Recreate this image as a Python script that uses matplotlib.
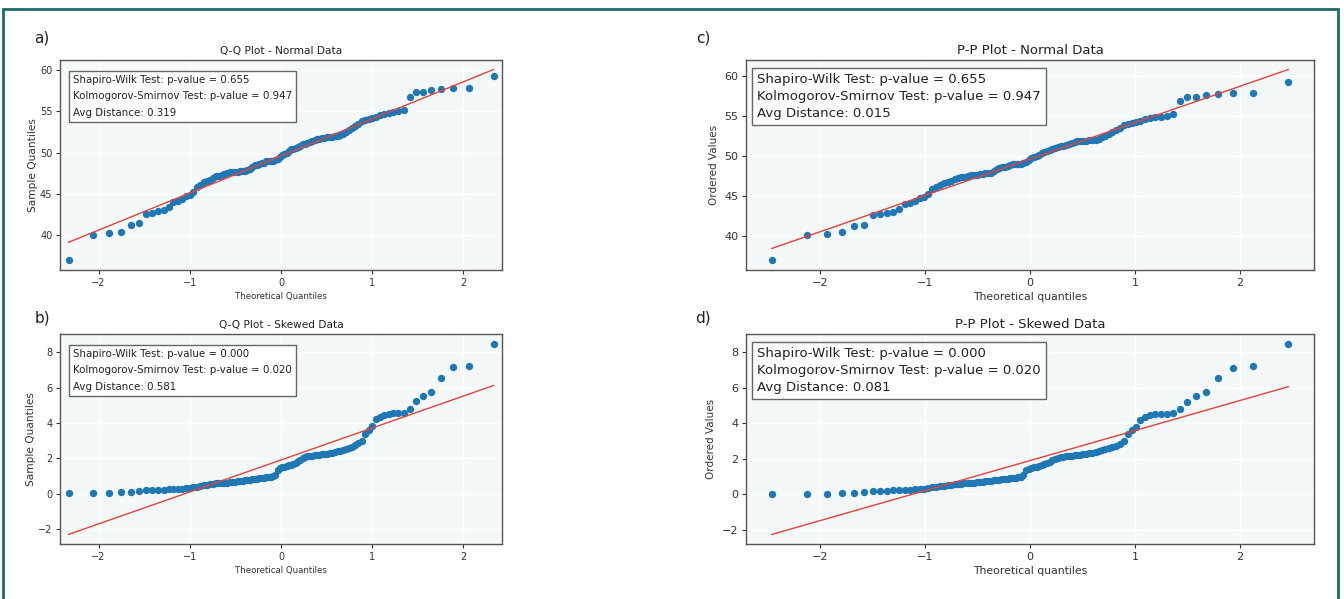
import numpy as np
import matplotlib
matplotlib.use("Agg")
import matplotlib.pyplot as plt
from matplotlib.patches import Rectangle
from statistics import NormalDist

# ---------------- data (sorted sample values) ----------------
normal_data = [
    36.9, 40.05, 40.2, 40.4, 41.2, 41.4, 42.6, 42.7, 42.9, 43.0,
    43.4, 44.0, 44.15, 44.35, 44.7, 44.9, 45.2, 45.8, 46.1, 46.4,
    46.6, 46.7, 46.9, 47.1, 47.2, 47.3, 47.4, 47.5, 47.6, 47.6,
    47.65, 47.7, 47.75, 47.8, 47.8, 47.9, 48.05, 48.3, 48.5, 48.55,
    48.6, 48.7, 48.8, 48.95, 49.0, 49.0, 49.0, 49.05, 49.2, 49.5,
    49.7, 49.85, 50.0, 50.15, 50.4, 50.5, 50.55, 50.7, 50.85, 51.0,
    51.05, 51.2, 51.25, 51.4, 51.5, 51.6, 51.7, 51.8, 51.8, 51.85,
    51.9, 51.95, 52.0, 52.0, 52.15, 52.3, 52.5, 52.7, 53.0, 53.2,
    53.5, 53.8, 54.0, 54.1, 54.2, 54.35, 54.6, 54.75, 54.85, 54.9,
    55.0, 55.2, 56.8, 57.4, 57.4, 57.6, 57.7, 57.8, 57.9, 59.3,
]
skewed_data = [
    0.02, 0.02, 0.04, 0.08, 0.10, 0.13, 0.19, 0.21, 0.21, 0.23,
    0.25, 0.26, 0.27, 0.29, 0.31, 0.33, 0.36, 0.40, 0.44, 0.47,
    0.50, 0.54, 0.56, 0.58, 0.60, 0.60, 0.62, 0.62, 0.64, 0.66,
    0.68, 0.70, 0.72, 0.73, 0.75, 0.77, 0.79, 0.81, 0.83, 0.85,
    0.87, 0.89, 0.90, 0.92, 0.94, 0.96, 1.00, 1.07, 1.36, 1.45,
    1.49, 1.53, 1.56, 1.60, 1.64, 1.69, 1.75, 1.83, 1.92, 2.00,
    2.07, 2.11, 2.13, 2.15, 2.17, 2.18, 2.20, 2.22, 2.24, 2.26,
    2.28, 2.32, 2.35, 2.39, 2.43, 2.49, 2.54, 2.60, 2.66, 2.75,
    2.85, 3.00, 3.40, 3.60, 3.80, 4.20, 4.35, 4.45, 4.50, 4.55,
    4.55, 4.58, 4.78, 5.22, 5.52, 5.74, 6.55, 7.14, 7.21, 8.49,
]
panel_letters = ["a)", "b)", "c)", "d)"]
titles = ["Q-Q Plot - Normal Data", "Q-Q Plot - Skewed Data",
          "P-P Plot - Normal Data", "P-P Plot - Skewed Data"]
stats_normal = ["Shapiro-Wilk Test: p-value = 0.655",
                "Kolmogorov-Smirnov Test: p-value = 0.947"]
stats_skewed = ["Shapiro-Wilk Test: p-value = 0.000",
                "Kolmogorov-Smirnov Test: p-value = 0.020"]
avg_dist = ["Avg Distance: 0.319", "Avg Distance: 0.581",
            "Avg Distance: 0.015", "Avg Distance: 0.081"]
normal_yticks = [40, 45, 50, 55, 60]
skewed_yticks = [-2, 0, 2, 4, 6, 8]
xticks = [-2, -1, 0, 1, 2]

plt.rcParams["font.family"] = ["DejaVu Sans"]

nd = NormalDist()


def sm_positions(n):
    # statsmodels ProbPlot default plotting positions i/(n+1)
    return np.array([nd.inv_cdf(i / (n + 1)) for i in range(1, n + 1)])


def scipy_positions(n):
    # scipy.stats.probplot (Filliben) order statistic medians
    m = np.empty(n)
    m[-1] = 0.5 ** (1.0 / n)
    m[0] = 1 - m[-1]
    i = np.arange(2, n)
    m[1:-1] = (i - 0.3175) / (n + 0.365)
    return np.array([nd.inv_cdf(p) for p in m])


fig = plt.figure(figsize=(13.44, 5.99), dpi=100)
W, H = 1344, 599


def add_ax(l, r, t, b):
    return fig.add_axes([l / W, 1 - b / H, (r - l) / W, (b - t) / H])


axes = [
    add_ax(60, 502, 60, 270),
    add_ax(60, 502, 334, 544),
    add_ax(746, 1314, 60, 270),
    add_ax(746, 1314, 334, 544),
]

BG = "#f4f8f8"
DOT = "#1f77b4"
LINE = "#e8413a"
TXT = "#222222"

# left half of the reference is horizontally compressed -> smaller fonts there
style_left = dict(tick=7.0, xlab=6.2, ylab=7.6, ylabpad=1.5, title=7.6, box=7.35,
                  ls=1.8, off=(13, -14.7))
style_right = dict(tick=8.0, xlab=7.8, ylab=7.5, ylabpad=4.0, title=9.5, box=9.5,
                   ls=1.37, off=(11, -13.3))

for k, ax in enumerate(axes):
    st = style_left if k < 2 else style_right
    data = np.array(normal_data if k % 2 == 0 else skewed_data)
    n = len(data)
    if k < 2:
        x = sm_positions(n)
        slope, inter = data.std(ddof=1), data.mean()
        xlabel, ylabel = "Theoretical Quantiles", "Sample Quantiles"
    else:
        x = scipy_positions(n)
        slope, inter = np.polyfit(x, data, 1)
        xlabel, ylabel = "Theoretical quantiles", "Ordered Values"
    ax.set_facecolor(BG)
    ax.grid(True, color="white", lw=1.0)
    ax.set_axisbelow(True)
    ax.scatter(x, data, s=28, color=DOT, zorder=3, linewidths=0)
    ax.plot(x, inter + slope * x, color=LINE, lw=1.0, zorder=4)
    if k < 2:
        ax.margins(x=0.02, y=0.05)
    ax.set_xticks(xticks)
    ax.set_xticklabels(["\u22122", "\u22121", "0", "1", "2"])
    yt = normal_yticks if k % 2 == 0 else skewed_yticks
    ax.set_yticks(yt)
    ax.set_yticklabels([str(v).replace("-", "\u2212") for v in yt])
    ax.tick_params(labelsize=st["tick"], colors="#333333", length=3, width=0.8, pad=2.5)
    for sp in ax.spines.values():
        sp.set_color("#555555")
        sp.set_linewidth(1.0)
    ax.set_xlabel(xlabel, fontsize=st["xlab"], color="#333333", labelpad=3)
    ax.set_ylabel(ylabel, fontsize=st["ylab"], color="#333333", labelpad=st["ylabpad"])
    ax.set_title(titles[k], fontsize=st["title"], color=TXT, pad=4.5)
    lines = (stats_normal if k % 2 == 0 else stats_skewed) + [avg_dist[k]]
    ax.annotate("\n".join(lines), xy=(0, 1), xycoords="axes fraction",
                xytext=st["off"], textcoords="offset pixels",
                va="top", ha="left", fontsize=st["box"], color=TXT,
                linespacing=st["ls"], zorder=6,
                bbox=dict(boxstyle="square,pad=0.4", fc="white", ec="#666666", lw=1.0))

letter_pos = [(42, 38), (42, 318), (703, 38), (703, 318)]
letter_size = [11, 11, 11, 11]
for (px, py), lab, fs in zip(letter_pos, panel_letters, letter_size):
    fig.text(px / W, 1 - py / H, lab, fontsize=fs, color=TXT, ha="center", va="center")

fig.patches.append(Rectangle((3 / W, -0.05), (1338 - 3) / W, 1.05 - 9 / H,
                             transform=fig.transFigure, fill=False,
                             ec="#1f6a66", lw=2.0))

fig.savefig("out.png", dpi=100)
